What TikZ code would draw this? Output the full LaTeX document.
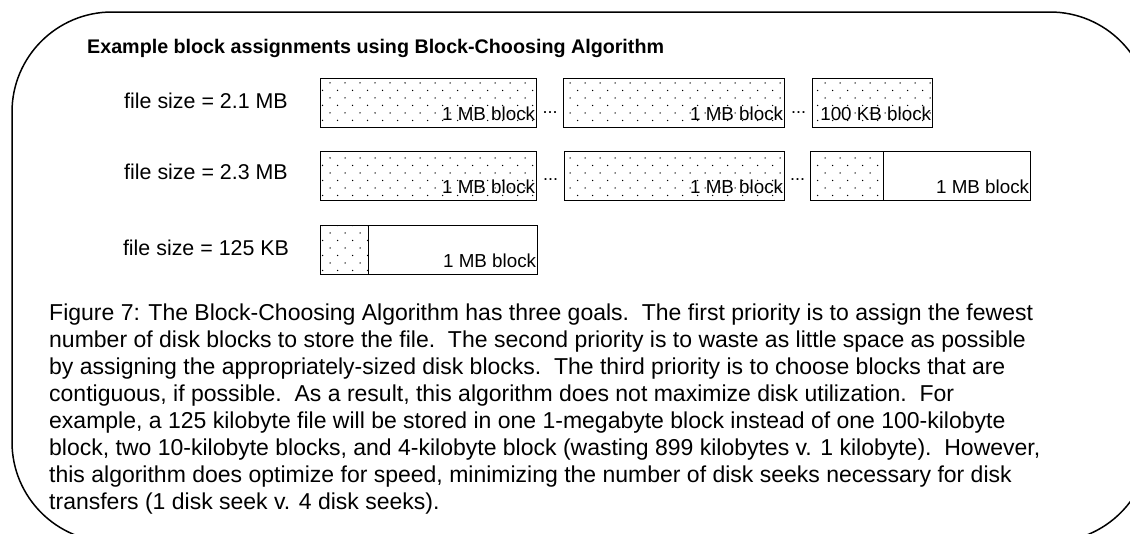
\documentclass[tikz,border=0pt]{standalone}
\usepackage{fontspec}
\setmainfont{Liberation Sans}
\usetikzlibrary{patterns,calc}

\pgfdeclarepatternformonly{sparse dots}{\pgfqpoint{-1pt}{-1pt}}{\pgfqpoint{14pt}{14pt}}{\pgfqpoint{15pt}{15pt}}{%
  \pgfpathcircle{\pgfqpoint{0pt}{0pt}}{0.75pt}%
  \pgfpathcircle{\pgfqpoint{7.5pt}{7.5pt}}{0.75pt}%
  \pgfusepath{fill}}

\tikzset{
  blockbox/.style={draw,line width=1.3pt,inner sep=0pt,anchor=north west,minimum height=48.5pt},
  used/.style={pattern=sparse dots},
  blocklabel/.style={anchor=base east,inner sep=0pt,font=\fontsize{18.8}{20}\selectfont},
  sizelabel/.style={anchor=base,inner sep=0pt,font=\fontsize{21.4}{24}\selectfont},
  gap/.style={inner sep=0pt,font=\fontsize{18}{18}\selectfont},
}

\begin{document}
\begin{tikzpicture}[x=1pt,y=-1pt]
	\clip (0,0) rectangle (1130,533);
	\draw [line width=1.5pt,rounded corners=100pt] (12,12) rectangle (1150,542);
	\node [anchor=base west,inner sep=0pt,font=\fontsize{19.7}{22}\selectfont\bfseries] (title) at (87,53) {Example block assignments using Block-Choosing Algorithm};
	%% 2.1 MB
	\node [sizelabel] (size1) at (206,108) {file size = 2.1 MB};
	\node [blockbox,used,minimum width=216pt] (a1) at (320,78) {};
	\node [blockbox,used,minimum width=221pt] (b1) at (563,78) {};
	\node [blockbox,used,minimum width=120pt] (c1) at (812,78) {};
	\node [gap] (d1) at ($(a1.east)!.5!(b1.west)+(0,10)$) {...};
	\node [gap] (d3) at ($(b1.east)!.5!(c1.west)+(0,10)$) {...};
	%% 2.3 MB
	\node [sizelabel] (size2) at (206,179) {file size = 2.3 MB};
	\node [blockbox,used,minimum width=216pt] (a2) at (320,151) {};
	\node [blockbox,used,minimum width=220pt] (b2) at (564,151) {};
	\node [blockbox,used,minimum width=73pt] (c2u) at (810,151) {};
	\node [blockbox,minimum width=220pt] (c2) at (810,151) {};
	\node [gap] (d2) at ($(a2.east)!.5!(b2.west)+(0,4)$) {...};
	\node [gap] (d4) at ($(b2.east)!.5!(c2.west)+(0,4)$) {...};
	%% 125 KB
	\node [sizelabel] (size3) at (206,255) {file size = 125 KB};
	\node [blockbox,used,minimum width=48pt] (a3u) at (320,225) {};
	\node [blockbox,minimum width=217pt] (a3) at (320,225) {};
	\foreach \b in {a1,b1,a2,b2,c2,a3}
		\node [blocklabel] (\b t) at ([xshift=-2pt,yshift=7pt]\b.south east) {1 MB block};
	\node [blocklabel] (c1t) at ([xshift=-2pt,yshift=7pt]c1.south east) {100 KB block};
	\node [anchor=base west,inner sep=0pt,align=left,font=\fontsize{23}{27}\selectfont] (caption) at (49,509) {%
		Figure 7: The Block-Choosing Algorithm has three goals.\ \ The first priority is to assign the fewest\\
		number of disk blocks to store the file.\ \ The second priority is to waste as little space as possible\\
		by assigning the appropriately-sized disk blocks.\ \ The third priority is to choose blocks that are\\
		contiguous, if possible.\ \ As a result, this algorithm does not maximize disk utilization.\ \ For\\
		example, a 125 kilobyte file will be stored in one 1-megabyte block instead of one 100-kilobyte\\
		block, two 10-kilobyte blocks, and 4-kilobyte block (wasting 899 kilobytes v. 1 kilobyte).\ \ However,\\
		this algorithm does optimize for speed, minimizing the number of disk seeks necessary for disk\\
		transfers (1 disk seek v. 4 disk seeks).};
\end{tikzpicture}
\end{document}
